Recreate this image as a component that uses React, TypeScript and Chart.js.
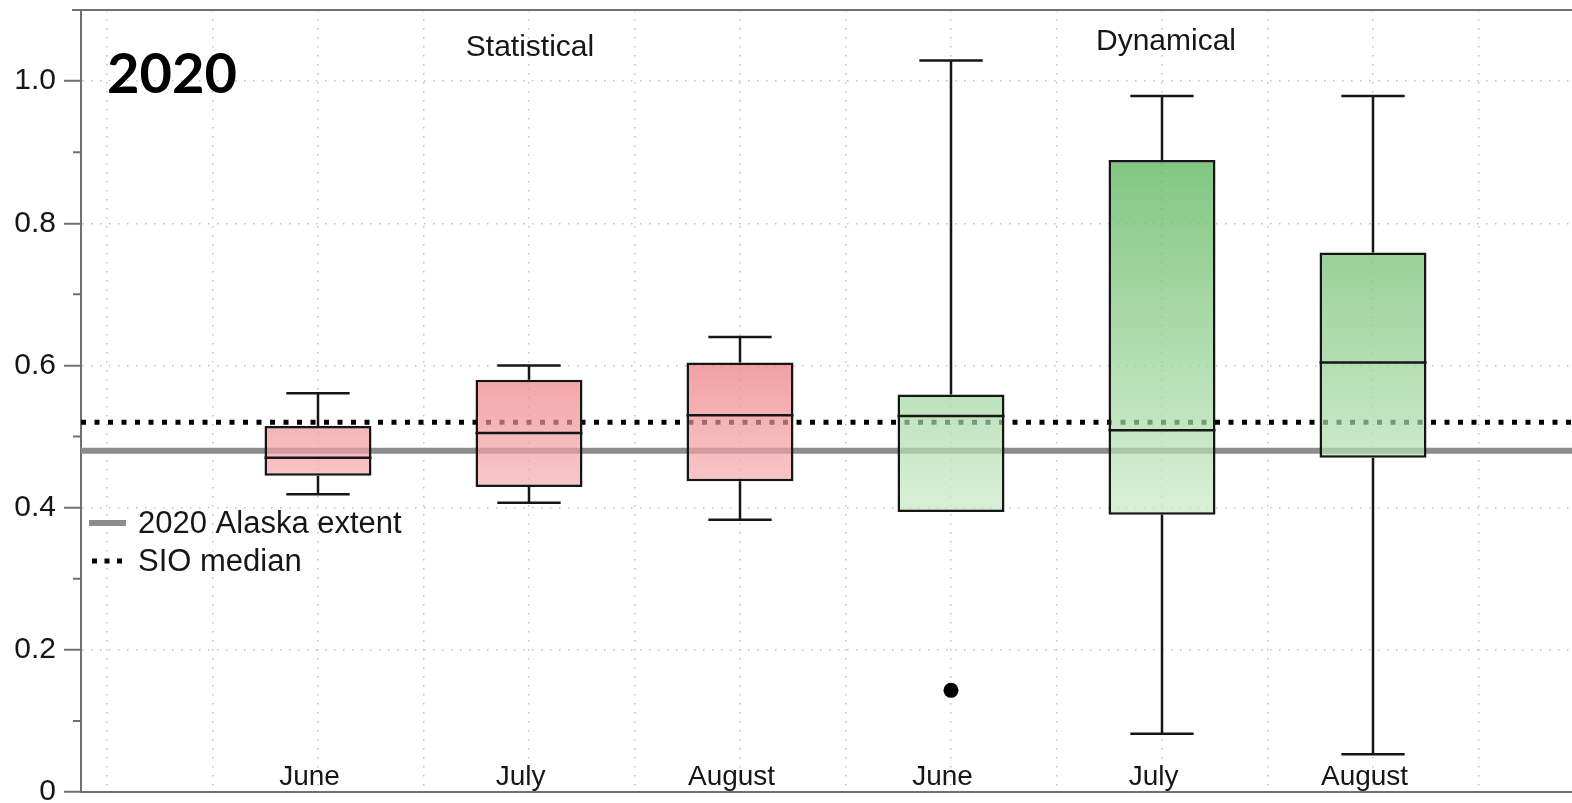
import React, { useEffect, useRef } from 'react';
import { Chart, registerables } from 'chart.js';

Chart.register(...registerables);

// Forecast categories (target month) and the forecast method of each box
const categories = ['June', 'July', 'August', 'June', 'July', 'August'];
const methods = ['Statistical', 'Statistical', 'Statistical', 'Dynamical', 'Dynamical', 'Dynamical'];

// Box-and-whisker statistics per category
const whiskerLow = [0.419, 0.407, 0.383, 0.394, 0.082, 0.053];
const lowerQuartile = [0.445, 0.429, 0.437, 0.394, 0.39, 0.47];
const medians = [0.47, 0.505, 0.53, 0.529, 0.509, 0.604];
const upperQuartile = [0.515, 0.58, 0.604, 0.559, 0.889, 0.759];
const whiskerHigh = [0.561, 0.6, 0.64, 1.029, 0.979, 0.979];

// Outliers: category index and value
const outlierIndex = [3];
const outlierValue = [0.143];

// Reference levels
const alaskaExtent = 0.48;
const sioMedian = 0.52;

// Axis ticks
const yMajorTicks = [0, 0.2, 0.4, 0.6, 0.8, 1.0];
const yMinorTicks = [0.1, 0.3, 0.5, 0.7, 0.9];

const yearLabel = '2020';
const legendLabels = ['2020 Alaska extent', 'SIO median'];

const X_MIN = -1.1232;
const X_MAX = 6.1232;
const Y_MIN = 0;
const Y_MAX = 1.1;

const AXIS_GRAY = '#707070';
const GRID_GRAY = '#c2c2c2';
const EXTENT_GRAY = '#8c8c8c';
const INK = '#161616';
const SANS = '"Liberation Sans", Arial, Helvetica, sans-serif';
const STROKE = 2.5;

function boxFill(context: any) {
  const chart = context.chart;
  const y = chart.scales && chart.scales.y;
  const i = context.dataIndex;
  if (!chart.chartArea || !y || i === undefined) return 'rgba(0,0,0,0)';
  const statistical = methods[i] === 'Statistical';
  const g = chart.ctx.createLinearGradient(
    0,
    y.getPixelForValue(statistical ? 0.61 : 0.9),
    0,
    y.getPixelForValue(statistical ? 0.43 : 0.39)
  );
  if (statistical) {
    g.addColorStop(0, 'rgba(236,119,125,0.7)');
    g.addColorStop(1, 'rgba(245,176,179,0.7)');
  } else {
    g.addColorStop(0, 'rgba(74,172,74,0.7)');
    g.addColorStop(1, 'rgba(202,234,199,0.7)');
  }
  return g;
}

const boxDecorations = {
  id: 'boxDecorations',
  afterDatasetsDraw(chart: any) {
    const { ctx, scales } = chart;
    const x = scales.x;
    const y = scales.y;
    const boxes = chart.getDatasetMeta(2).data;
    ctx.save();
    ctx.strokeStyle = INK;
    ctx.lineWidth = STROKE;
    ctx.lineCap = 'butt';
    categories.forEach((_, i) => {
      const cx = x.getPixelForValue(i);
      const capL = x.getPixelForValue(i - 0.15);
      const capR = x.getPixelForValue(i + 0.15);
      const yQ1 = y.getPixelForValue(lowerQuartile[i]);
      const yQ3 = y.getPixelForValue(upperQuartile[i]);
      const yHi = y.getPixelForValue(whiskerHigh[i]);
      const yLo = y.getPixelForValue(whiskerLow[i]);
      ctx.beginPath();
      if (whiskerHigh[i] > upperQuartile[i]) {
        ctx.moveTo(cx, yQ3);
        ctx.lineTo(cx, yHi);
        ctx.moveTo(capL, yHi);
        ctx.lineTo(capR, yHi);
      }
      if (whiskerLow[i] < lowerQuartile[i]) {
        ctx.moveTo(cx, yQ1);
        ctx.lineTo(cx, yLo);
        ctx.moveTo(capL, yLo);
        ctx.lineTo(capR, yLo);
      }
      ctx.stroke();

      const bar = boxes[i];
      if (bar) {
        const { x: bx, width } = bar.getProps(['x', 'width'], true);
        const yMed = y.getPixelForValue(medians[i]);
        ctx.beginPath();
        ctx.moveTo(bx - width / 2, yMed);
        ctx.lineTo(bx + width / 2, yMed);
        ctx.stroke();
      }
    });
    ctx.restore();
  },
  afterDraw(chart: any) {
    const { ctx, chartArea, scales } = chart;
    const x = scales.x;
    const y = scales.y;
    ctx.save();

    // top frame line
    ctx.strokeStyle = AXIS_GRAY;
    ctx.lineWidth = 2;
    ctx.beginPath();
    ctx.moveTo(chartArea.left - 9, chartArea.top);
    ctx.lineTo(chartArea.right, chartArea.top);
    ctx.stroke();

    // minor tick marks on the value axis
    ctx.beginPath();
    yMinorTicks.forEach((v) => {
      const py = y.getPixelForValue(v);
      ctx.moveTo(chartArea.left - 8, py);
      ctx.lineTo(chartArea.left, py);
    });
    ctx.stroke();

    // month labels along the bottom of the plot
    ctx.fillStyle = INK;
    ctx.font = `28px ${SANS}`;
    ctx.textAlign = 'center';
    ctx.textBaseline = 'alphabetic';
    categories.forEach((label, i) => {
      ctx.fillText(label, x.getPixelForValue(i - 0.04), chartArea.bottom - 7);
    });

    // method titles, centred over each group
    ctx.font = `30px ${SANS}`;
    const groups: string[] = [];
    methods.forEach((m) => {
      if (!groups.includes(m)) groups.push(m);
    });
    groups.forEach((g, gi) => {
      const idx = methods.map((m, i) => (m === g ? i : -1)).filter((i) => i >= 0);
      const mid = idx.reduce((a, b) => a + b, 0) / idx.length;
      ctx.fillText(g, x.getPixelForValue(mid) + (gi === 0 ? 1 : 4), chartArea.top + (gi === 0 ? 46 : 40));
    });

    // year label
    ctx.textAlign = 'left';
    ctx.fillStyle = '#000';
    ctx.font = `700 56px Lato, "Open Sans", sans-serif`;
    ctx.fillText(yearLabel, chartArea.left + 26, chartArea.top + 83);

    // legend
    const lx = chartArea.left + 8;
    const ly1 = chartArea.top + 513;
    const ly2 = chartArea.top + 551;
    ctx.strokeStyle = EXTENT_GRAY;
    ctx.lineWidth = 6;
    ctx.beginPath();
    ctx.moveTo(lx, ly1);
    ctx.lineTo(lx + 37, ly1);
    ctx.stroke();
    ctx.strokeStyle = '#000';
    ctx.lineWidth = 5;
    ctx.setLineDash([5, 7.5]);
    ctx.beginPath();
    ctx.moveTo(lx + 3, ly2);
    ctx.lineTo(lx + 36, ly2);
    ctx.stroke();
    ctx.setLineDash([]);
    ctx.fillStyle = INK;
    ctx.font = `31px ${SANS}`;
    ctx.textBaseline = 'middle';
    ctx.fillText(legendLabels[0], lx + 49, ly1 + 1);
    ctx.fillText(legendLabels[1], lx + 49, ly2 + 1);

    ctx.restore();
  },
};

export default function App() {
  const canvasRef = useRef<HTMLCanvasElement | null>(null);

  useEffect(() => {
    const canvas = canvasRef.current;
    if (!canvas) return;

    const chart = new Chart(canvas, {
      type: 'bar',
      data: {
        datasets: [
          {
            type: 'line',
            label: legendLabels[0],
            data: [
              { x: X_MIN, y: alaskaExtent },
              { x: X_MAX, y: alaskaExtent },
            ],
            borderColor: EXTENT_GRAY,
            borderWidth: 6,
            pointRadius: 0,
            order: 4,
          } as any,
          {
            type: 'line',
            label: legendLabels[1],
            data: [
              { x: X_MIN, y: sioMedian },
              { x: X_MAX, y: sioMedian },
            ],
            borderColor: '#000',
            borderWidth: 5,
            borderDash: [5, 8.5],
            borderCapStyle: 'butt',
            pointRadius: 0,
            order: 3,
          } as any,
          {
            type: 'bar',
            label: 'boxes',
            data: categories.map((_, i) => ({ x: i, y: [lowerQuartile[i], upperQuartile[i]] })),
            backgroundColor: boxFill,
            borderColor: INK,
            borderWidth: STROKE,
            borderSkipped: false,
            // bar sizing is measured against the half-unit grid ticks,
            // so this gives a box about half a category wide
            categoryPercentage: 1.014,
            barPercentage: 1,
            order: 2,
          } as any,
          {
            type: 'scatter',
            label: 'outliers',
            data: outlierIndex.map((idx, k) => ({ x: idx, y: outlierValue[k] })),
            backgroundColor: '#000',
            borderWidth: 0,
            pointRadius: 7.5,
            order: 1,
          } as any,
        ],
      },
      options: {
        responsive: false,
        animation: false,
        devicePixelRatio: 1,
        layout: { padding: { top: 10, right: 10, left: 0, bottom: 0 } },
        plugins: {
          legend: { display: false },
          tooltip: { enabled: false },
        },
        scales: {
          x: {
            type: 'linear',
            min: X_MIN,
            max: X_MAX,
            offset: false,
            ticks: { display: false, stepSize: 0.5 },
            afterBuildTicks: (scale: any) => {
              const ticks = [];
              for (let v = Math.ceil(X_MIN * 2) / 2; v <= X_MAX; v += 0.5) ticks.push({ value: v });
              scale.ticks = ticks;
            },
            afterFit: (scale: any) => {
              scale.height = 11;
              scale.paddingLeft = 0;
              scale.paddingRight = 0;
            },
            grid: {
              offset: false,
              color: GRID_GRAY,
              lineWidth: 1.5,
              drawTicks: false,
            },
            border: { display: true, color: AXIS_GRAY, width: 2, dash: [1.5, 7.5] },
          },
          y: {
            type: 'linear',
            min: Y_MIN,
            max: Y_MAX,
            afterBuildTicks: (scale: any) => {
              scale.ticks = yMajorTicks.map((v) => ({ value: v }));
            },
            afterFit: (scale: any) => {
              scale.width = 81;
              scale.paddingTop = 0;
              scale.paddingBottom = 0;
            },
            ticks: {
              color: INK,
              padding: 8,
              font: { family: SANS, size: 30 },
              callback: (v: any) => (Number(v) === 0 ? '0' : Number(v).toFixed(1)),
            },
            grid: {
              color: (c: any) => (c.tick && c.tick.value === 0 ? 'rgba(0,0,0,0)' : GRID_GRAY),
              lineWidth: 1.5,
              drawTicks: true,
              tickLength: 17,
              tickColor: AXIS_GRAY,
              tickWidth: 2,
              tickBorderDash: [],
            },
            border: { display: true, color: AXIS_GRAY, width: 2, dash: [1.5, 7.5] },
          },
        },
      } as any,
      plugins: [boxDecorations],
    });

    return () => chart.destroy();
  }, []);

  return (
    <div
      style={{
        position: 'absolute',
        left: 0,
        top: 0,
        width: 1572,
        height: 803,
        overflow: 'hidden',
        background: '#fff',
      }}
    >
      <canvas ref={canvasRef} width={1620} height={803} style={{ display: 'block' }} />
    </div>
  );
}
